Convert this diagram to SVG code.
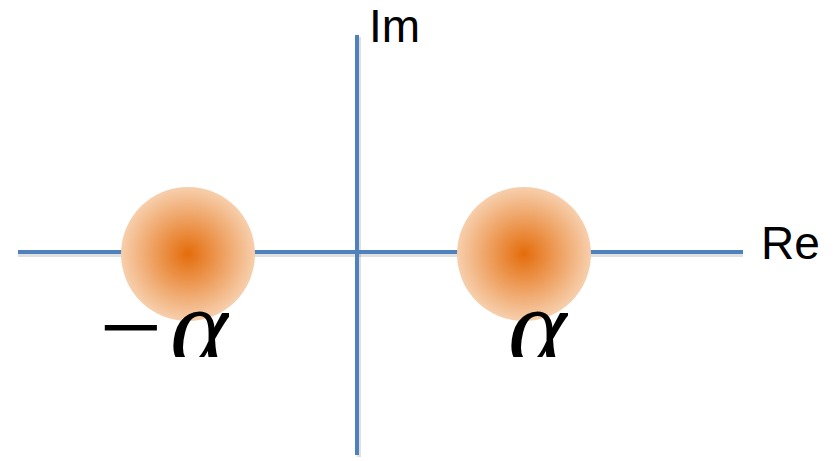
<svg xmlns="http://www.w3.org/2000/svg" width="835" height="461" viewBox="0 0 835 461">
<style>
.axis{stroke:#4F81BD;stroke-width:4;fill:none}
.shadow{stroke:#000;stroke-opacity:0.12;stroke-width:4;fill:none}
.lbl{font-family:"Liberation Sans",Arial,sans-serif;font-size:46px;fill:#000}
.math{font-family:"Liberation Serif","Times New Roman",serif;font-style:italic;font-size:112px;fill:#000}
.minus{font-family:"Liberation Serif","Times New Roman",serif;font-size:112px;fill:#000}
</style>
<defs>
<radialGradient id="glow" cx="0.5" cy="0.5" r="0.5">
<stop offset="0" stop-color="#E46C0A"/>
<stop offset="1" stop-color="#F7CFAD"/>
</radialGradient>
<clipPath id="clipL"><rect x="0" y="280" width="229" height="77"/></clipPath>
<clipPath id="clipR"><rect x="450" y="280" width="118" height="77"/></clipPath>
</defs>
<g id="connectors">
<line class="shadow" x1="18" y1="255" x2="743" y2="255"/>
<line class="shadow" x1="359" y1="37" x2="359" y2="457"/>
<line id="re-axis" class="axis" x1="18" y1="252" x2="743" y2="252"/>
<line id="im-axis" class="axis" x1="357" y1="35" x2="357" y2="455"/>
</g>
<g id="pole-neg">
<circle cx="188" cy="254" r="67" fill="url(#glow)"/>
</g>
<g id="pole-pos">
<circle cx="524" cy="254" r="67" fill="url(#glow)"/>
</g>
<g id="label-im"><text class="lbl" x="369" y="42">Im</text></g>
<g id="label-re"><text class="lbl" x="761" y="259">Re</text></g>
<g id="label-neg-alpha" clip-path="url(#clipL)">
<text class="minus" x="99" y="365">−</text>
<text class="math" x="170" y="365">α</text>
</g>
<g id="label-alpha" clip-path="url(#clipR)">
<text class="math" x="508" y="365">α</text>
</g>
</svg>
